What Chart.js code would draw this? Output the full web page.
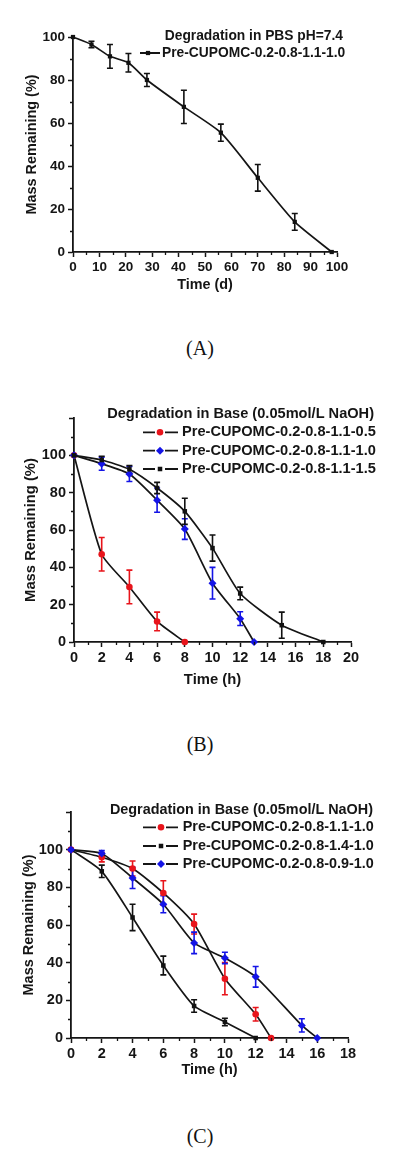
<!DOCTYPE html>
<html><head><meta charset="utf-8">
<script src="https://cdn.jsdelivr.net/npm/chart.js@4.4.0/dist/chart.umd.min.js"></script>
<style>
body{margin:0;background:#fff;width:400px;height:1161px;position:relative;overflow:hidden;}
canvas{position:absolute;left:0;}
.cap{position:absolute;left:0;width:400px;text-align:center;font-family:"Liberation Serif","Times New Roman",serif;font-size:20px;line-height:24px;color:#111;}
</style></head>
<body>
<canvas id="cA" width="400" height="310" style="top:0px"></canvas>
<div class="cap" style="top:336px">(A)</div>
<canvas id="cB" width="400" height="320" style="top:390px"></canvas>
<div class="cap" style="top:732px">(B)</div>
<canvas id="cC" width="400" height="310" style="top:790px"></canvas>
<div class="cap" style="top:1124px">(C)</div>
<script>
// ---------- DATA ----------
// Panel A: PBS pH 7.4 (time in days)
const legendTitleA = 'Degradation in PBS pH=7.4';
const nameA = 'Pre-CUPOMC-0.2-0.8-1.1-1.0';
const timeA = [0, 7, 14, 21, 28, 42, 56, 70, 84, 98];
const massA = [100, 96.5, 91, 88, 80, 67.5, 55.5, 34.5, 14, 0];
const errA  = [0, 1.5, 5.5, 4.3, 3, 7.7, 4, 6.2, 3.9, 0];

// Panel B: base 0.05 mol/L NaOH (time in hours)
const legendTitleB = 'Degradation in Base (0.05mol/L NaOH)';
const namesB = ['Pre-CUPOMC-0.2-0.8-1.1-0.5', 'Pre-CUPOMC-0.2-0.8-1.1-1.0', 'Pre-CUPOMC-0.2-0.8-1.1-1.5'];
const timeB05 = [0, 2, 4, 6, 8];
const massB05 = [100, 47, 29.5, 11, 0];
const errB05  = [0, 9, 9, 5, 0];
const timeB10 = [0, 2, 4, 6, 8, 10, 12, 13];
const massB10 = [100, 95.5, 90, 76, 60.5, 31.5, 12.5, 0];
const errB10  = [0, 3.5, 4, 6.5, 5.5, 8.5, 3.7, 0];
const timeB15 = [0, 2, 4, 6, 8, 10, 12, 15, 18];
const massB15 = [100, 97.5, 92.5, 82.5, 70, 50.3, 26, 9, 0];
const errB15  = [0, 2, 2, 3, 7, 7, 3.4, 7, 0];

// Panel C: base 0.05 mol/L NaOH (time in hours)
const legendTitleC = 'Degradation in Base (0.05mol/L NaOH)';
const namesC = ['Pre-CUPOMC-0.2-0.8-1.1-1.0', 'Pre-CUPOMC-0.2-0.8-1.4-1.0', 'Pre-CUPOMC-0.2-0.8-0.9-1.0'];
const timeC11 = [0, 2, 4, 6, 8, 10, 12, 13];
const massC11 = [100, 96, 90, 77, 60.5, 31.5, 12.6, 0];
const errC11  = [0, 2.5, 4, 6.5, 5.3, 8.5, 3.6, 0];
const timeC14 = [0, 2, 4, 6, 8, 10, 12];
const massC14 = [100, 88.5, 64, 38.5, 17, 8.5, 0];
const errC14  = [0, 3.3, 7, 5, 3.3, 2, 0];
const timeC09 = [0, 2, 4, 6, 8, 10, 12, 15, 16];
const massC09 = [100, 98, 85, 71, 50.5, 42.5, 32.5, 6.7, 0];
const errC09  = [0, 1.5, 5.6, 4.5, 5.7, 3, 5.5, 3.5, 0];

const yTitle = 'Mass Remaining (%)';
const xTitleA = 'Time (d)';
const xTitleBC = 'Time (h)';

// ---------- STYLE ----------
Chart.defaults.font.family = '"Liberation Sans", Arial, Helvetica, sans-serif';
Chart.defaults.font.weight = 'bold';
Chart.defaults.color = '#111';
Chart.defaults.animation = false;
const INK = '#151515';
const RED = '#e8141b', BLUE = '#1414e6', BLACK = '#111111';
const XH = 50;

function series(label, xs, ys, errs, color, style, radius, order) {
  return {
    label, order, data: xs.map((x, i) => ({x, y: ys[i]})), errors: errs, errColor: color,
    borderColor: INK, borderWidth: 1.7, backgroundColor: color,
    pointBackgroundColor: color, pointBorderColor: color, pointBorderWidth: 0,
    pointStyle: style, pointRadius: radius, pointHoverRadius: radius,
    tension: 0.2, clip: false, fill: false
  };
}

const errorBars = {
  id: 'errorBars',
  beforeDatasetsDraw(chart) {
    const ctx = chart.ctx, xs = chart.scales.x, ys = chart.scales.y;
    chart.data.datasets.forEach(ds => {
      ctx.save(); ctx.strokeStyle = ds.errColor; ctx.lineWidth = 1.6;
      ds.data.forEach((p, i) => {
        const e = ds.errors[i]; if (!e) return;
        const px = xs.getPixelForValue(p.x);
        const y1 = ys.getPixelForValue(p.y + e), y2 = ys.getPixelForValue(p.y - e);
        ctx.beginPath();
        ctx.moveTo(px, y1); ctx.lineTo(px, y2);
        ctx.moveTo(px - 3, y1); ctx.lineTo(px + 3, y1);
        ctx.moveTo(px - 3, y2); ctx.lineTo(px + 3, y2);
        ctx.stroke();
      });
      ctx.restore();
    });
  }
};

const minorTicks = {
  id: 'minorTicks',
  afterDraw(chart, args, o) {
    const ctx = chart.ctx, a = chart.chartArea, xs = chart.scales.x, ys = chart.scales.y;
    ctx.save(); ctx.strokeStyle = INK; ctx.lineWidth = 1.3; ctx.beginPath();
    for (let k = 0; o.x * (2 * k + 1) < xs.max; k++) {
      const px = Math.round(xs.getPixelForValue(o.x * (2 * k + 1))) + 0.5;
      ctx.moveTo(px, a.bottom); ctx.lineTo(px, a.bottom + 3);
    }
    for (let k = 0; o.y * (2 * k + 1) < ys.max; k++) {
      const py = Math.round(ys.getPixelForValue(o.y * (2 * k + 1))) + 0.5;
      ctx.moveTo(a.left, py); ctx.lineTo(a.left - 3, py);
    }
    ctx.stroke(); ctx.restore();
  }
};

const legendBox = {
  id: 'legendBox',
  afterDraw(chart, args, o) {
    const ctx = chart.ctx, top = o.top;
    ctx.save();
    ctx.fillStyle = INK;
    ctx.font = 'bold ' + o.size + 'px "Liberation Sans", Arial, sans-serif';
    ctx.textBaseline = 'middle';
    ctx.textAlign = 'right';
    ctx.fillText(o.title, o.titleRight, o.titleY - top);
    ctx.textAlign = 'left';
    chart.data.datasets.forEach((ds, i) => {
      const y = o.itemY[i] - top;
      ctx.strokeStyle = INK; ctx.lineWidth = 1.8;
      ctx.beginPath();
      ctx.moveTo(o.lx0, y); ctx.lineTo(o.mx - o.gap, y);
      ctx.moveTo(o.mx + o.gap, y); ctx.lineTo(o.lx1, y);
      ctx.stroke();
      ctx.fillStyle = ds.pointBackgroundColor;
      Chart.helpers.drawPoint(ctx, {pointStyle: ds.pointStyle, radius: ds.pointRadius, borderWidth: 0, rotation: 0}, o.mx, y);
      ctx.fillStyle = INK;
      ctx.fillText(ds.label, o.tx, y);
    });
    ctx.restore();
  }
};

function makeChart(id, p) {
  const lhY = p.titleSize * 1.2, lhX = p.titleSize * 1.2;
  return new Chart(document.getElementById(id), {
    type: 'line',
    data: {datasets: p.datasets},
    options: {
      responsive: false, animation: false,
      layout: {padding: {left: 0, top: p.area.t - p.top, right: 400 - p.area.r, bottom: p.H - (p.area.b - p.top) - XH}},
      plugins: {legend: {display: false}, tooltip: {enabled: false},
        minorTicks: {x: p.minorX, y: p.minorY},
        legendBox: Object.assign({top: p.top}, p.legend)},
      scales: {
        x: {type: 'linear', min: 0, max: p.xMax,
          afterFit: s => { s.height = XH; },
          grid: {drawOnChartArea: false, drawTicks: true, tickLength: 5, tickWidth: 1.5, tickColor: INK},
          border: {display: true, color: INK, width: 1.8},
          ticks: {stepSize: p.xStep, padding: 2, color: INK, maxRotation: 0, autoSkip: false, font: {size: p.tickSize, weight: 'bold'}},
          title: {display: true, text: p.xTitle, color: INK, font: {size: p.titleSize, weight: 'bold'},
            padding: {top: 0, bottom: p.area.b + XH - p.xTitleY - lhX / 2}}
        },
        y: {type: 'linear', min: 0, max: p.yMax,
          afterFit: s => { s.width = p.area.l; },
          grid: {drawOnChartArea: false, drawTicks: true, tickLength: 5, tickWidth: 1.5, tickColor: INK},
          border: {display: true, color: INK, width: 1.8},
          ticks: {stepSize: 20, padding: 3, color: INK, font: {size: p.tickSize, weight: 'bold'},
            callback: v => (v > 100 ? '' : String(v))},
          title: {display: true, text: yTitle, color: INK, font: {size: p.titleSize, weight: 'bold'},
            padding: {top: p.yTitleX - lhY / 2, bottom: 0}}
        }
      }
    },
    plugins: [errorBars, minorTicks, legendBox]
  });
}

makeChart('cA', {
  top: 0, H: 310, area: {l: 73, t: 37, r: 337, b: 252}, xTitleY: 285, yTitleX: 31.7,
  xMax: 100, xStep: 10, yMax: 100, minorX: 5, minorY: 10, tickSize: 13.5, titleSize: 14.4, xTitle: xTitleA,
  datasets: [series(nameA, timeA, massA, errA, BLACK, 'rect', 3, 1)],
  legend: {size: 13.8, title: legendTitleA, titleRight: 343, titleY: 36, itemY: [53], lx0: 140, lx1: 160, mx: 148, gap: 0, tx: 162}
});

makeChart('cB', {
  top: 390, H: 320, area: {l: 74, t: 418, r: 351, b: 642}, xTitleY: 680, yTitleX: 30.7,
  xMax: 20, xStep: 2, yMax: 120, minorX: 1, minorY: 10, tickSize: 14.5, titleSize: 14.8, xTitle: xTitleBC,
  datasets: [
    series(namesB[0], timeB05, massB05, errB05, RED, 'circle', 3.3, 3),
    series(namesB[1], timeB10, massB10, errB10, BLUE, 'rectRot', 4, 2),
    series(namesB[2], timeB15, massB15, errB15, BLACK, 'rect', 3.2, 1)
  ],
  legend: {size: 14.6, title: legendTitleB, titleRight: 374, titleY: 414, itemY: [432.3, 450.7, 469], lx0: 143, lx1: 178, mx: 160, gap: 5, tx: 182}
});

makeChart('cC', {
  top: 790, H: 310, area: {l: 71, t: 812, r: 348, b: 1038}, xTitleY: 1070, yTitleX: 29.3,
  xMax: 18, xStep: 2, yMax: 120, minorX: 1, minorY: 10, tickSize: 14.5, titleSize: 14.5, xTitle: xTitleBC,
  datasets: [
    series(namesC[0], timeC11, massC11, errC11, RED, 'circle', 3.3, 3),
    series(namesC[1], timeC14, massC14, errC14, BLACK, 'rect', 3.2, 2),
    series(namesC[2], timeC09, massC09, errC09, BLUE, 'rectRot', 4, 1)
  ],
  legend: {size: 14.4, title: legendTitleC, titleRight: 373, titleY: 810.5, itemY: [827.3, 846, 864], lx0: 143, lx1: 178, mx: 161, gap: 5, tx: 182.7}
});
</script>
</body></html>
